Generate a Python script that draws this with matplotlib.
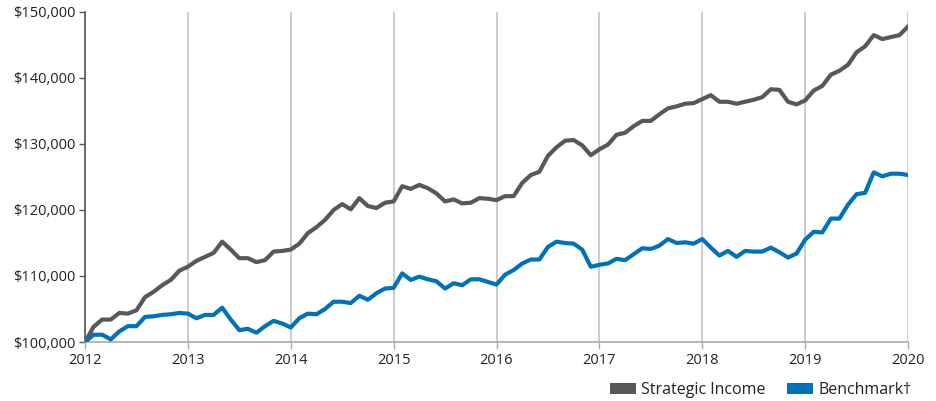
import matplotlib
matplotlib.use("Agg")
import matplotlib.pyplot as plt
from matplotlib.patches import Patch
from matplotlib.ticker import FuncFormatter
import numpy as np

plt.rcParams['font.family'] = ['Open Sans', 'DejaVu Sans']

start_year = 2012
years = [2012, 2013, 2014, 2015, 2016, 2017, 2018, 2019, 2020]

strategic_income = [
    100000, 102300, 103400, 103400, 104400, 104300, 104800, 106800, 107600, 108600, 109400, 110800,
    111400, 112300, 112900, 113500, 115200, 114000, 112700, 112700, 112100, 112400, 113700, 113800,
    114000, 114900, 116500, 117400, 118500, 120000, 120900, 120100, 121800, 120600, 120300, 121100,
    121300, 123600, 123200, 123800, 123300, 122500, 121300, 121600, 121000, 121100, 121800, 121700,
    121500, 122100, 122100, 124100, 125300, 125800, 128200, 129500, 130500, 130600, 129800, 128300,
    129200, 129900, 131400, 131700, 132700, 133500, 133500, 134500, 135400, 135700, 136100, 136200,
    136800, 137400, 136400, 136400, 136100, 136400, 136700, 137100, 138300, 138200, 136400, 136000,
    136600, 138100, 138800, 140500, 141100, 142000, 143900, 144800, 146500, 145900, 146200, 146500,
    147800,
]

benchmark = [
    100000, 101100, 101100, 100400, 101600, 102400, 102400, 103800, 103900, 104100, 104200, 104400,
    104300, 103600, 104100, 104100, 105200, 103400, 101800, 102000, 101400, 102400, 103200, 102800,
    102200, 103600, 104300, 104200, 105000, 106100, 106100, 105900, 107000, 106400, 107400, 108100,
    108200, 110400, 109400, 109900, 109500, 109200, 108100, 108900, 108600, 109500, 109500, 109100,
    108700, 110200, 110900, 111900, 112500, 112500, 114400, 115200, 115000, 114900, 114000, 111400,
    111700, 111900, 112600, 112400, 113300, 114200, 114100, 114600, 115600, 115000, 115100, 114900,
    115600, 114300, 113100, 113800, 112900, 113800, 113700, 113700, 114300, 113600, 112800, 113400,
    115500, 116700, 116600, 118700, 118700, 120800, 122400, 122600, 125700, 125100, 125500, 125500,
    125300,
]

series_names = ["Strategic Income", "Benchmark†"]
colors = ["#58585a", "#0072bc"]

x = start_year + np.arange(len(strategic_income)) / 12.0

fig = plt.figure(figsize=(9.36, 4.01), dpi=100)
ax = fig.add_axes([85 / 936, 1 - 342 / 401, (908 - 85) / 936, (342 - 12) / 401])

for yv in years:
    ax.axvline(yv, color="#c8c8c8", lw=1.3, zorder=0)

ax.plot(x, strategic_income, color=colors[0], lw=3.0, solid_joinstyle="round", zorder=3)
ax.plot(x, benchmark, color=colors[1], lw=3.0, solid_joinstyle="round", zorder=3)

ax.set_xlim(2012, 2020)
ax.set_ylim(100000, 150000)
ax.set_xticks(years)
ax.set_xticklabels([str(v) for v in years])
ax.set_yticks(np.arange(100000, 150001, 10000))
ax.yaxis.set_major_formatter(FuncFormatter(lambda v, p: "${:,.0f}".format(v)))

for s in ["top", "right"]:
    ax.spines[s].set_visible(False)
ax.spines["left"].set_color("#555555")
ax.spines["left"].set_linewidth(1.2)
ax.spines["bottom"].set_color("#aaaaaa")
ax.spines["bottom"].set_linewidth(1.2)
ax.tick_params(axis="y", length=4, width=1, color="#555555", labelsize=10.5, labelcolor="#222222", pad=3)
ax.tick_params(axis="x", length=5, width=1, color="#aaaaaa", labelsize=10.5, labelcolor="#222222", pad=3)

handles = [Patch(facecolor=c, edgecolor="none") for c in colors]
fig.legend(handles, series_names, loc="center right", bbox_to_anchor=(915 / 936, 1 - 390 / 401),
           ncol=2, frameon=False, fontsize=11.5, handlelength=1.6, handleheight=0.75,
           handletextpad=0.35, columnspacing=1.35, labelcolor="#222222",
           borderpad=0.2, borderaxespad=0)

fig.savefig("out.png", dpi=100)
